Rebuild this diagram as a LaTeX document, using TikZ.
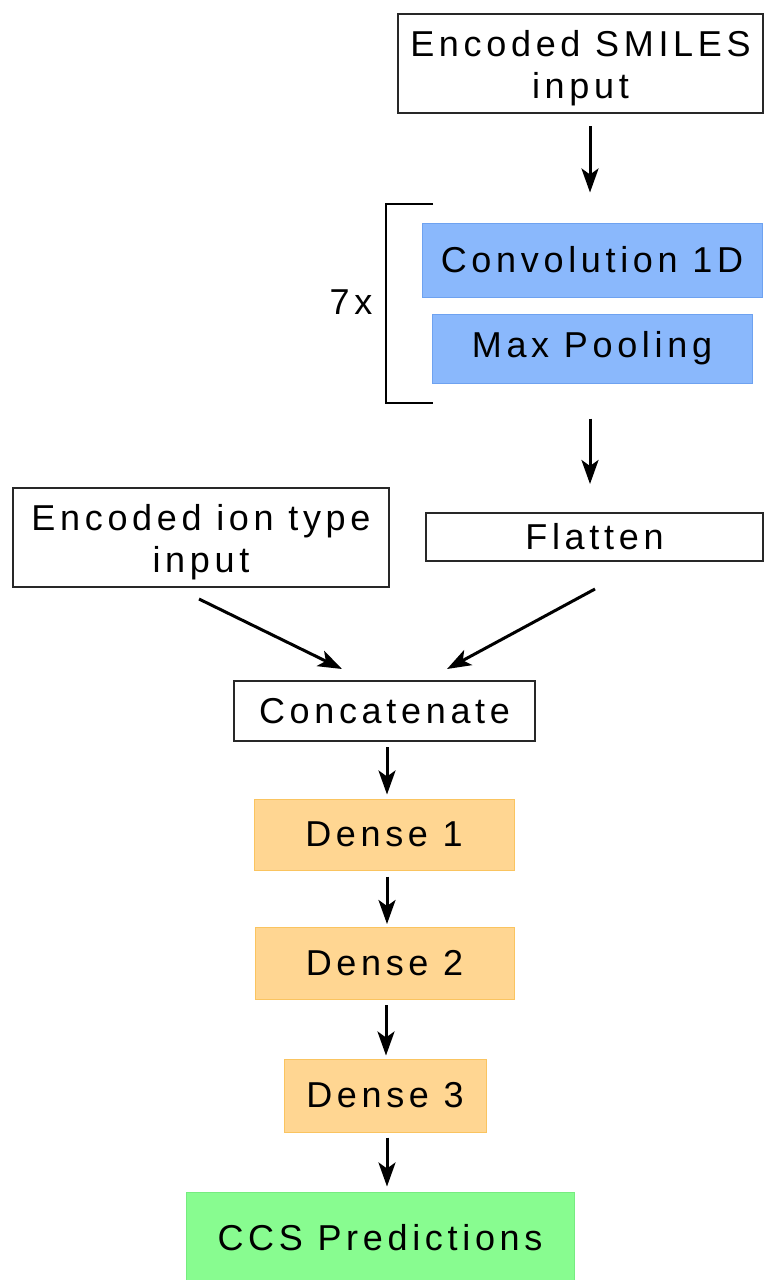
\documentclass[tikz,border=0pt]{standalone}
\usepackage{fontspec}
\setmainfont{Liberation Sans}[LetterSpace=13]
\usetikzlibrary{arrows.meta}

\definecolor{convblue}{RGB}{138,184,252}
\definecolor{convedge}{RGB}{110,162,240}
\definecolor{densefill}{RGB}{255,214,146}
\definecolor{denseedge}{RGB}{250,196,96}
\definecolor{outfill}{RGB}{136,252,144}
\definecolor{outedge}{RGB}{118,236,128}
\definecolor{boxline}{RGB}{40,40,40}

% taller first line, so two-line labels sit a little lower in their boxes
\newcommand{\firstline}{\rule{0pt}{36pt}}

\tikzset{
  label text/.style={font=\fontsize{36}{42}\selectfont, align=center, text=black},
  plainbox/.style={label text, draw=boxline, line width=2pt, fill=white, inner sep=0pt},
  layerbox/.style={label text, draw=convedge, line width=1pt, fill=convblue, inner sep=0pt},
  densebox/.style={label text, draw=denseedge, line width=1pt, fill=densefill, inner sep=0pt},
  outbox/.style={label text, draw=outedge, line width=1pt, fill=outfill, inner sep=0pt},
  flow/.style={line width=3pt, -{Stealth[length=24pt,width=17pt,inset=6pt]}},
}

\begin{document}
\begin{tikzpicture}[x=1pt,y=-1pt]
\useasboundingbox (0,0) rectangle (765,1280);

% SMILES branch
\node[plainbox, minimum width=365pt, minimum height=99pt] (smiles) at (580.5,63.5)
  {\firstline Encoded SMILES\\input};
\node[layerbox, minimum width=340pt, minimum height=74pt] (conv) at (592,260)
  {Convolution 1D};
\node[layerbox, minimum width=320pt, minimum height=69pt] (maxp) at (592,348.5)
  {Max Pooling};
\node[plainbox, minimum width=337pt, minimum height=48pt] (flat) at (594.5,537)
  {Flatten};

% repetition bracket around the convolution block
\draw[line width=2pt, draw=black] (433,204) -- (386,204) -- (386,403) -- (433,403);
\node[label text] (rep) at (351,302) {7x};

% ion type branch
\node[plainbox, minimum width=376pt, minimum height=99pt] (ion) at (201,537.5)
  {\firstline Encoded ion type\\input};

% merged trunk
\node[plainbox, minimum width=301pt, minimum height=60pt] (concat) at (384.5,711)
  {Concatenate};
\node[densebox, minimum width=260pt, minimum height=71pt] (d1) at (384,834.5) {Dense 1};
\node[densebox, minimum width=259pt, minimum height=72pt] (d2) at (384.5,963.5) {Dense 2};
\node[densebox, minimum width=202pt, minimum height=73pt] (d3) at (385,1095.5) {Dense 3};
\node[outbox, minimum width=388pt, minimum height=92pt] (ccs) at (380,1238) {CCS Predictions};

% connectors
\draw[flow] ([shift={(9.5,12)}]smiles.south) -- ([shift={(-2,-30)}]conv.north);
\draw[flow] ([shift={(-2,35)}]maxp.south) -- ([shift={(-4.5,-28)}]flat.north);
\draw[flow] ([shift={(-2,11)}]ion.south) -- ([shift={(-42.5,-11)}]concat.north);
\draw[flow] ([shift={(0.5,27)}]flat.south) -- ([shift={(62.5,-11)}]concat.north);
\draw[flow] ([shift={(2.5,5)}]concat.south) -- ([shift={(3,-4)}]d1.north);
\draw[flow] ([shift={(3,6)}]d1.south) -- ([shift={(2.5,-3)}]d2.north);
\draw[flow] ([shift={(1.5,5)}]d2.south) -- ([shift={(1,-3)}]d3.north);
\draw[flow] ([shift={(2,5)}]d3.south) -- ([shift={(7,-5)}]ccs.north);
\end{tikzpicture}
\end{document}
